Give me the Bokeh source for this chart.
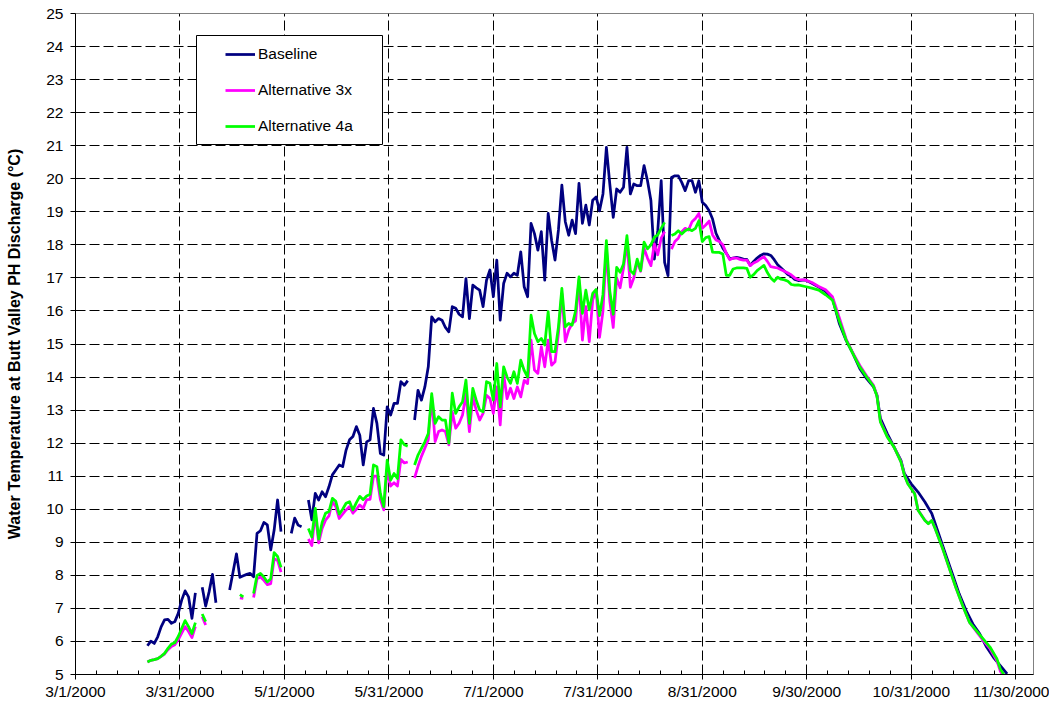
import math
from bokeh.plotting import figure
from bokeh.models import Range1d, FixedTicker, Legend, LegendItem, BoxAnnotation
from bokeh.embed import file_html
from bokeh.resources import INLINE

NaN = float("nan")

# ---- axis ticks (x = days after 3/1/2000) ----
tick_days = [0, 30.5, 61, 91.5, 122, 152.5, 183, 213.5, 244, 274.5]
tick_labels = ["3/1/2000", "3/31/2000", "5/1/2000", "5/31/2000", "7/1/2000",
               "7/31/2000", "8/31/2000", "9/30/2000", "10/31/2000", "11/30/2000"]
y_ticks = list(range(5, 26))

series_names = ["Baseline", "Alternative 3x", "Alternative 4a"]

# ---- Baseline: daily 21..211, then every reading after ----
baseline_days = list(range(21, 212)) + [213, 215, 217, 219, 221, 223, 225, 227, 229, 231, 233, 234,
                                       235, 237, 239, 241, 242, 244, 246, 248, 250, 252, 254, 256,
                                       258, 260, 262, 264, 266, 268, 270, 272]
baseline_temp = [
    5.87, 6.01, 5.94, 6.14, 6.44, 6.65, 6.67, 6.55, 6.6, 6.85,
    7.25, 7.53, 7.35, 6.7, 7.47, NaN, 7.64, 7.07, 7.5, 8.03,
    7.17, NaN, NaN, NaN, 7.56, 8.1, 8.65, 7.94, 7.99, 8.03,
    8.06, 7.96, 9.27, 9.35, 9.6, 9.53, 8.77, 9.37, 10.28, 9.32,
    NaN, NaN, 9.27, 9.73, 9.52, 9.47, NaN, 10.28, 9.68, 10.48,
    10.28, 10.53, 10.38, 10.68, 11.04, 11.19, 11.34, 11.29, 11.79, 12.1,
    12.2, 12.5, 12.24, 11.34, 12.04, 12.1, 13.05, 12.6, 11.69, 11.64,
    13.1, 12.85, 13.2, 13.2, 13.86, 13.75, 13.89, NaN, 12.7, 13.6,
    13.3, 13.7, 14.31, 15.82, 15.67, 15.77, 15.72, 15.5, 15.37, 16.13,
    16.08, 15.9, 15.82, 16.98, 15.77, 16.78, 16.7, 16.63, 16.13, 16.93,
    17.24, 16.43, 17.54, 15.72, 16.83, 17.14, 17.03, 17.14, 17.08, 17.79,
    16.73, 16.43, 18.65, 18.34, 17.84, 18.4, 16.93, 18.95, 18.14, 17.54,
    18.45, 19.81, 18.7, 18.29, 18.75, 18.34, 19.86, 18.65, 19.2, 18.6,
    19.35, 19.45, 19.03, 19.54, 20.95, 19.84, 18.83, 19.69, 19.59, 19.74,
    20.95, 19.54, 19.84, 19.79, 19.79, 20.4, 19.94, 19.34, 17.57, 18.43,
    19.94, 17.47, 17.07, 20.04, 20.09, 20.09, 19.89, 19.64, 19.94, 19.94,
    19.59, 19.94, 19.29, 19.19, 19.03, 18.78, 18.35, 18.13, 17.9, 17.75,
    17.58, 17.6, 17.62, 17.6, 17.57, 17.56, 17.38, 17.5, 17.6, 17.68,
    17.73, 17.72, 17.68, 17.55, 17.4, 17.3, 17.2, 17.1, 17.05, 16.95, 16.92,
    16.94, 16.84, 16.72, 16.59, 16.38, 15.62, 15.11, 14.71, 14.25, 13.95, 13.7, 13.45,
    12.75, 12.29, 11.88, 11.48, 11.08, 10.77, 10.52, 10.22, 9.87, 9.26, 8.65, 8.05,
    7.44, 6.94, 6.53, 6.23, 5.83, 5.52, 5.27, 5.02,
]

late_days = [213, 215, 217, 219, 221, 223, 225, 227, 229, 231, 233, 234, 235, 237, 239, 241,
             242, 243, 245, 246, 248, 249, 250, 251, 253, 255, 257, 259, 261, 263, 265, 267,
             269, 270, 271]

# ---- Alternative 3x ----
alt3x_days = list(range(21, 212)) + late_days
alt3x_temp = [
    5.38, 5.43, 5.45, 5.48, 5.55, 5.62, 5.75, 5.85, 5.9, 6.05,
    6.25, 6.45, 6.3, 6.12, 6.45, NaN, 6.75, 6.5, NaN, NaN,
    NaN, NaN, NaN, NaN, NaN, NaN, NaN, 7.32, 7.3, NaN,
    NaN, 7.33, 7.9, 7.95, 7.85, 7.72, 7.75, 8.5, 8.45, 8.1,
    NaN, NaN, NaN, NaN, NaN, NaN, NaN, 9.1, 8.9, 9.88,
    8.98, 9.42, 9.67, 9.8, 10.23, 10.08, 9.72, 9.85, 9.98, 10.08,
    9.88, 10.0, 10.13, 10.03, 10.29, 10.3, 11.0, 11.0, 10.3, 9.98,
    11.2, 10.7, 10.8, 10.7, 11.51, 11.4, 11.43, NaN, 10.95, 11.3,
    11.6, 11.85, 12.1, 13.4, 12.05, 12.35, 12.4, 12.35, 11.95, 12.95,
    12.45, 12.6, 12.85, 13.5, 12.35, 13.4, 13.0, 12.7, 12.9, 13.45,
    13.35, 12.9, 13.7, 12.55, 14.1, 13.35, 13.66, 13.35, 13.7, 13.4,
    13.9, 13.8, 15.12, 14.21, 14.11, 14.92, 14.31, 15.12, 14.36, 14.46,
    15.32, 16.53, 15.07, 15.42, 15.62, 15.7, 16.93, 15.12, 16.13, 15.07,
    16.33, 16.63, 15.2, 16.0, 17.9, 16.3, 15.5, 17.0, 16.7, 17.3,
    18.1, 16.72, 17.0, 17.5, 17.2, 17.9, 17.6, 17.37, 18.03, 17.7,
    18.2, 18.4, NaN, 17.87, 18.1, 18.2, 18.4, 18.5, 18.45, 18.7,
    18.8, 18.95, 18.5, 18.6, 18.72, 18.3, 18.15, 18.1, 18.0, 17.75,
    17.55, 17.6, 17.6, 17.56, 17.54, 17.54, 17.37, 17.45, 17.5, 17.58,
    17.64, 17.5, 17.34, 17.32, 17.3, 17.25, 17.2, 17.15, 17.09, 17.0, 16.95,
    16.94, 16.86, 16.74, 16.64, 16.43, 15.8, 15.15, 14.72, 14.35, 14.03, 13.75, 13.44,
    12.66, 12.2, 11.88, 11.44, 11.04, 10.78, 10.48, 9.98, 9.67, 9.57, 9.66, 9.42,
    8.86, 8.25, 7.64, 7.09, 6.58, 6.3, 6.03, 5.78, 5.42, 5.1, 4.95,
]

# ---- Alternative 4a ----
alt4a_days = list(range(21, 212)) + late_days
alt4a_temp = [
    5.38, 5.43, 5.45, 5.48, 5.55, 5.64, 5.79, 5.92, 5.96, 6.15,
    6.39, 6.63, 6.45, 6.24, 6.57, NaN, 6.83, 6.6, NaN, NaN,
    NaN, NaN, NaN, NaN, NaN, NaN, NaN, 7.42, 7.35, NaN,
    NaN, 7.45, 8.0, 8.06, 7.95, 7.8, 7.9, 8.69, 8.57, 8.24,
    NaN, NaN, NaN, NaN, NaN, NaN, NaN, 9.42, 9.16, 10.03,
    9.1, 9.6, 9.88, 9.93, 10.33, 10.24, 9.85, 10.0, 10.18, 10.23,
    9.98, 10.2, 10.39, 10.29, 10.4, 10.45, 11.34, 11.29, 10.48, 10.08,
    11.49, 10.88, 11.08, 10.93, 12.1, 11.95, 11.91, NaN, 11.34, 11.64,
    11.84, 12.04, 12.29, 13.5, 12.6, 12.8, 12.7, 12.7, 12.0, 13.51,
    12.9, 13.1, 13.25, 13.91, 12.6, 13.66, 13.3, 13.0, 12.95, 13.86,
    13.81, 13.3, 14.41, 13.1, 14.31, 14.0, 13.81, 14.16, 13.81, 14.51,
    14.2, 14.0, 15.87, 15.32, 15.07, 15.17, 14.97, 15.98, 14.77, 14.77,
    15.52, 16.68, 15.52, 15.62, 15.57, 16.0, 17.03, 15.93, 16.63, 16.03,
    16.53, 16.65, 15.86, 16.5, 18.13, 16.6, 15.9, 17.32, 17.17, 17.42,
    18.28, 17.22, 17.12, 17.57, 17.22, 18.08, 17.88, 18.0, 18.23, 18.3,
    18.5, 18.68, NaN, 18.28, 18.33, 18.43, 18.33, 18.43, 18.48, 18.43,
    18.5, 18.73, 18.1, 18.22, 18.25, 17.78, 17.77, 17.77, 17.72, 17.08,
    17.08, 17.27, 17.3, 17.3, 17.3, 17.29, 17.02, 17.1, 17.22, 17.3,
    17.38, 17.16, 17.0, 16.9, 17.02, 16.96, 16.94, 16.9, 16.8, 16.78, 16.79,
    16.74, 16.69, 16.63, 16.49, 16.33, 15.7, 15.12, 14.7, 14.3, 14.0, 13.72, 13.42,
    12.64, 12.19, 11.88, 11.43, 11.03, 10.77, 10.47, 9.97, 9.66, 9.56, 9.66, 9.41,
    8.86, 8.25, 7.64, 7.09, 6.58, 6.33, 6.08, 5.83, 5.48, 5.17, 5.0,
]

# ---- layout ----
FONT = "Liberation Sans"
X_END = 279.7
FRAME_W, FRAME_H = 958, 661

p = figure(width=1049, height=702, output_backend="svg", toolbar_location=None,
           x_range=Range1d(0, X_END), y_range=Range1d(5, 25),
           min_border_left=75, min_border_right=16, min_border_top=13, min_border_bottom=28)
p.background_fill_color = "white"
p.border_fill_color = "white"
p.outline_line_color = "#808080"
p.outline_line_width = 1

p.xaxis.ticker = FixedTicker(ticks=tick_days,
                             minor_ticks=[i * 30.5 / 5 for i in range(0, 46)])
p.xaxis.major_label_overrides = {d: lab for d, lab in zip(tick_days, tick_labels)}
p.yaxis.ticker = FixedTicker(ticks=y_ticks)

for ax in (p.xaxis[0], p.yaxis[0]):
    ax.axis_line_color = "black"
    ax.axis_line_width = 1
    ax.major_tick_line_color = "black"
    ax.minor_tick_line_color = "black"
    ax.major_label_text_font = FONT
    ax.major_label_text_font_size = "15.5px"
    ax.major_label_text_color = "black"

p.xaxis.major_tick_in = 5
p.xaxis.major_tick_out = 5
p.xaxis.minor_tick_in = 4
p.xaxis.minor_tick_out = 0
p.xaxis.major_label_standoff = 3

p.yaxis.major_tick_in = 0
p.yaxis.major_tick_out = 5
p.yaxis.minor_tick_in = 0
p.yaxis.minor_tick_out = 0
p.yaxis.major_label_standoff = 7
p.yaxis.axis_label = "Water Temperature at Butt Valley PH Discharge (°C)"
p.yaxis.axis_label_text_font = FONT
p.yaxis.axis_label_text_font_style = "bold"
p.yaxis.axis_label_text_font_size = "16px"
p.yaxis.axis_label_text_color = "black"
p.yaxis.axis_label_standoff = 20

for g in (p.xgrid[0], p.ygrid[0]):
    g.grid_line_color = "black"
    g.grid_line_width = 1
    g.grid_line_dash = "10 4"

# ---- series ----
r_base = p.line(baseline_days, baseline_temp, line_color="#000080", line_width=2.75,
                line_join="round")
r_3x = p.line(alt3x_days, alt3x_temp, line_color="#FF00FF", line_width=2.75,
              line_join="round")
r_4a = p.line(alt4a_days, alt4a_temp, line_color="#00FF00", line_width=2.75,
              line_join="round")

# ---- legend box (white, black border) + legend entries ----
px_day = X_END / FRAME_W
px_deg = 20.0 / FRAME_H
box = BoxAnnotation(left=121 * px_day, right=307 * px_day,
                    top=25 - 22 * px_deg, bottom=25 - 131 * px_deg,
                    fill_color="white", fill_alpha=1.0,
                    line_color="black", line_alpha=1.0, line_width=1)
p.add_layout(box)

legend = Legend(items=[LegendItem(label=n, renderers=[r]) for n, r in
                       zip(series_names, [r_base, r_3x, r_4a])],
                location=(150, 539), orientation="vertical")
legend.border_line_color = None
legend.background_fill_alpha = 0
legend.padding = 0
legend.margin = 0
legend.spacing = 18
legend.glyph_width = 30
legend.glyph_height = 18
legend.label_height = 18
legend.label_standoff = 3
legend.label_text_font = FONT
legend.label_text_font_size = "15.5px"
legend.label_text_color = "black"
p.add_layout(legend, "center")

open("out.html", "w").write(file_html(p, INLINE))
